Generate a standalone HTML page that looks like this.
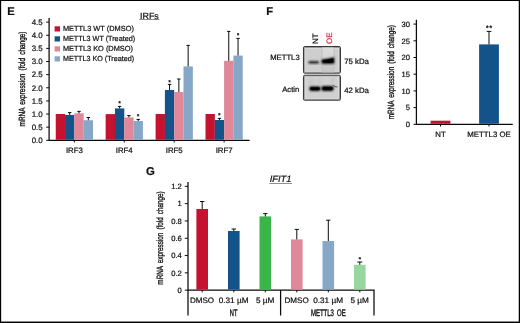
<!DOCTYPE html>
<html lang="en"><head><meta charset="utf-8"><title>Figure E-G</title>
<style>
html,body{margin:0;padding:0;background:#fff;}
body{width:520px;height:323px;overflow:hidden;}
svg{display:block;opacity:0.999;text-rendering:geometricPrecision;}
text{stroke:#111;stroke-width:0.22px;}
svg{font-family:"Liberation Sans", Arial, Helvetica, sans-serif;fill:#111;}
</style></head>
<body>
<svg width="520" height="323" viewBox="0 0 520 323">
<rect x="0" y="0" width="520" height="323" fill="#fff"/>
<rect x="0" y="0" width="520" height="1" fill="#000"/>
<rect x="0" y="0" width="1.15" height="323" fill="#000"/>
<rect x="518.75" y="0" width="1.25" height="323" fill="#000"/>
<rect x="0" y="321.55" width="520" height="1.45" fill="#000"/>
<text x="7.20" y="15.45" font-size="11.2" text-anchor="start" font-weight="bold">E</text>
<text x="266.30" y="15.45" font-size="11.2" text-anchor="start" font-weight="bold">F</text>
<text x="145.90" y="175.05" font-size="11.3" text-anchor="start" font-weight="bold">G</text>
<path d="M49.1 18V140.3M48.550000000000004 140.3H249.6" stroke="#0a0a0a" stroke-width="1.25" fill="none"/>
<path d="M46.2 140.30H49.1" stroke="#0a0a0a" stroke-width="1"/>
<text x="42.70" y="143.05" font-size="7.9" text-anchor="end" >0.0</text>
<path d="M46.2 127.17H49.1" stroke="#0a0a0a" stroke-width="1"/>
<text x="42.70" y="129.92" font-size="7.9" text-anchor="end" >0.5</text>
<path d="M46.2 114.04H49.1" stroke="#0a0a0a" stroke-width="1"/>
<text x="42.70" y="116.79" font-size="7.9" text-anchor="end" >1.0</text>
<path d="M46.2 100.91H49.1" stroke="#0a0a0a" stroke-width="1"/>
<text x="42.70" y="103.66" font-size="7.9" text-anchor="end" >1.5</text>
<path d="M46.2 87.78H49.1" stroke="#0a0a0a" stroke-width="1"/>
<text x="42.70" y="90.53" font-size="7.9" text-anchor="end" >2.0</text>
<path d="M46.2 74.65H49.1" stroke="#0a0a0a" stroke-width="1"/>
<text x="42.70" y="77.40" font-size="7.9" text-anchor="end" >2.5</text>
<path d="M46.2 61.52H49.1" stroke="#0a0a0a" stroke-width="1"/>
<text x="42.70" y="64.27" font-size="7.9" text-anchor="end" >3.0</text>
<path d="M46.2 48.39H49.1" stroke="#0a0a0a" stroke-width="1"/>
<text x="42.70" y="51.14" font-size="7.9" text-anchor="end" >3.5</text>
<path d="M46.2 35.26H49.1" stroke="#0a0a0a" stroke-width="1"/>
<text x="42.70" y="38.01" font-size="7.9" text-anchor="end" >4.0</text>
<path d="M46.2 22.13H49.1" stroke="#0a0a0a" stroke-width="1"/>
<text x="42.70" y="24.88" font-size="7.9" text-anchor="end" >4.5</text>
<text transform="translate(24.80 79.00) rotate(-90)" font-size="9.0" text-anchor="middle" textLength="95.0" lengthAdjust="spacingAndGlyphs" style="stroke-width:0.34px" word-spacing="1.8">mRNA expression (fold change)</text>
<text x="149.40" y="18.50" font-size="8.9" text-anchor="middle" >IRFs</text>
<rect x="139.3" y="19.45" width="20" height="0.55" fill="#333"/>
<rect x="54.6" y="26.30" width="5.4" height="5.2" fill="#C41230"/>
<text x="62.90" y="31.30" font-size="7.4" text-anchor="start" textLength="71.0" lengthAdjust="spacingAndGlyphs">METTL3 WT (DMSO)</text>
<rect x="54.6" y="36.30" width="5.4" height="5.2" fill="#14538A"/>
<text x="62.90" y="41.30" font-size="7.4" text-anchor="start" textLength="72.2" lengthAdjust="spacingAndGlyphs">METTL3 WT (Treated)</text>
<rect x="54.6" y="46.30" width="5.4" height="5.2" fill="#E0879A"/>
<text x="62.90" y="51.30" font-size="7.4" text-anchor="start" textLength="70.0" lengthAdjust="spacingAndGlyphs">METTL3 KO (DMSO)</text>
<rect x="54.6" y="56.30" width="5.4" height="5.2" fill="#86A7C6"/>
<text x="62.90" y="61.30" font-size="7.4" text-anchor="start" textLength="71.2" lengthAdjust="spacingAndGlyphs">METTL3 KO (Treated)</text>
<rect x="55.75" y="114.00" width="9.35" height="25.80" fill="#C41230"/>
<rect x="65.05" y="114.95" width="9.35" height="24.85" fill="#14538A"/>
<rect x="74.35" y="113.30" width="9.35" height="26.50" fill="#E0879A"/>
<rect x="83.65" y="120.25" width="9.35" height="19.55" fill="#86A7C6"/>
<path d="M69.70 114.95V112.60M68.00 112.60H71.40" stroke="#0a0a0a" stroke-width="1.0" fill="none"/>
<path d="M79.00 113.30V111.40M77.30 111.40H80.70" stroke="#0a0a0a" stroke-width="1.0" fill="none"/>
<path d="M88.30 120.25V117.50M86.60 117.50H90.00" stroke="#0a0a0a" stroke-width="1.0" fill="none"/>
<path d="M74.35 140.3V142.5" stroke="#0a0a0a" stroke-width="1"/>
<text x="74.35" y="152.80" font-size="7.8" text-anchor="middle" >IRF3</text>
<rect x="105.65" y="114.10" width="9.35" height="25.70" fill="#C41230"/>
<rect x="114.95" y="108.40" width="9.35" height="31.40" fill="#14538A"/>
<rect x="124.25" y="117.40" width="9.35" height="22.40" fill="#E0879A"/>
<rect x="133.55" y="121.00" width="9.35" height="18.80" fill="#86A7C6"/>
<path d="M119.60 108.40V106.40M117.90 106.40H121.30" stroke="#0a0a0a" stroke-width="1.0" fill="none"/>
<text x="119.60" y="105.01" font-size="5.6" font-weight="bold" style="stroke-width:0.25px" text-anchor="middle">*</text>
<path d="M128.90 117.40V115.60M127.20 115.60H130.60" stroke="#0a0a0a" stroke-width="1.0" fill="none"/>
<path d="M138.20 121.00V119.40M136.50 119.40H139.90" stroke="#0a0a0a" stroke-width="1.0" fill="none"/>
<text x="138.20" y="118.01" font-size="5.6" font-weight="bold" style="stroke-width:0.25px" text-anchor="middle">*</text>
<path d="M124.25 140.3V142.5" stroke="#0a0a0a" stroke-width="1"/>
<text x="124.25" y="152.80" font-size="7.8" text-anchor="middle" >IRF4</text>
<rect x="155.60" y="114.00" width="9.35" height="25.80" fill="#C41230"/>
<rect x="164.90" y="90.00" width="9.35" height="49.80" fill="#14538A"/>
<rect x="174.20" y="92.00" width="9.35" height="47.80" fill="#E0879A"/>
<rect x="183.50" y="66.40" width="9.35" height="73.40" fill="#86A7C6"/>
<path d="M169.55 90.00V84.40M167.85 84.40H171.25" stroke="#0a0a0a" stroke-width="1.0" fill="none"/>
<text x="169.55" y="83.81" font-size="5.6" font-weight="bold" style="stroke-width:0.25px" text-anchor="middle">*</text>
<path d="M178.85 92.00V79.00M177.15 79.00H180.55" stroke="#0a0a0a" stroke-width="1.0" fill="none"/>
<path d="M188.15 66.40V45.40M186.45 45.40H189.85" stroke="#0a0a0a" stroke-width="1.0" fill="none"/>
<path d="M174.20 140.3V142.5" stroke="#0a0a0a" stroke-width="1"/>
<text x="174.20" y="152.80" font-size="7.8" text-anchor="middle" >IRF5</text>
<rect x="205.50" y="114.00" width="9.35" height="25.80" fill="#C41230"/>
<rect x="214.80" y="120.00" width="9.35" height="19.80" fill="#14538A"/>
<rect x="224.10" y="60.80" width="9.35" height="79.00" fill="#E0879A"/>
<rect x="233.40" y="55.60" width="9.35" height="84.20" fill="#86A7C6"/>
<path d="M219.45 120.00V118.40M217.75 118.40H221.15" stroke="#0a0a0a" stroke-width="1.0" fill="none"/>
<text x="219.45" y="117.41" font-size="5.6" font-weight="bold" style="stroke-width:0.25px" text-anchor="middle">*</text>
<path d="M228.75 60.80V31.40M227.05 31.40H230.45" stroke="#0a0a0a" stroke-width="1.0" fill="none"/>
<path d="M238.05 55.60V38.40M236.35 38.40H239.75" stroke="#0a0a0a" stroke-width="1.0" fill="none"/>
<text x="238.05" y="37.41" font-size="5.6" font-weight="bold" style="stroke-width:0.25px" text-anchor="middle">*</text>
<path d="M224.10 140.3V142.5" stroke="#0a0a0a" stroke-width="1"/>
<text x="224.10" y="152.80" font-size="7.8" text-anchor="middle" >IRF7</text>
<defs>
<filter id="b1" x="-30%" y="-60%" width="160%" height="220%"><feGaussianBlur stdDeviation="0.8"/></filter>
<filter id="b2" x="-30%" y="-60%" width="160%" height="220%"><feGaussianBlur stdDeviation="0.8"/></filter>
<linearGradient id="lane" x1="0" y1="0" x2="0" y2="1"><stop offset="0" stop-color="#dedede"/><stop offset="0.45" stop-color="#d4d4d4"/><stop offset="0.7" stop-color="#c9c9c9"/><stop offset="1" stop-color="#c6c6c6"/></linearGradient>
<clipPath id="c1"><rect x="303.9" y="47.0" width="36.1" height="25.7"/></clipPath>
<clipPath id="c2"><rect x="303.9" y="75.65" width="36.1" height="24.1"/></clipPath>
</defs>
<rect x="303.45" y="46.55" width="37.0" height="26.6" rx="1.3" fill="#cecece" stroke="#2e2e2e" stroke-width="1.0"/>
<g clip-path="url(#c1)">
<rect x="304.35" y="47.45" width="35.2" height="24.8" rx="0.6" fill="none" stroke="#7d7d7d" stroke-width="0.8"/>
<rect x="305.1" y="48.2" width="33.7" height="23.3" fill="none" stroke="#e2e2e2" stroke-width="0.6"/>
<rect x="322.3" y="47.5" width="11.4" height="25" fill="url(#lane)"/>
<path d="M322.1 48V72.5M333.9 48V72.5" stroke="#bdbdbd" stroke-width="0.7"/>
<rect x="308.4" y="61.2" width="10.6" height="2.3" rx="1.1" fill="#111" filter="url(#b1)"/>
<rect x="309.2" y="61.7" width="9.0" height="1.3" rx="0.6" fill="#222" opacity="0.4"/>
<path d="M321.6 59.4 Q327 59.0 334.2 57.3 L334.4 63.4 Q327 64.0 321.6 63.4 Z" fill="#000" filter="url(#b1)"/>
<path d="M322.6 60.1 Q327.5 59.7 333.4 58.2 L333.6 62.6 Q327.5 63.2 322.6 62.6 Z" fill="#000" opacity="0.8"/>
</g>
<rect x="303.45" y="75.2" width="37.0" height="25.0" rx="1.3" fill="#d0d0d0" stroke="#2e2e2e" stroke-width="1.0"/>
<g clip-path="url(#c2)">
<rect x="304.35" y="76.1" width="35.2" height="23.2" rx="0.6" fill="none" stroke="#7d7d7d" stroke-width="0.8"/>
<rect x="305.1" y="76.85" width="33.7" height="21.7" fill="none" stroke="#e2e2e2" stroke-width="0.6"/>
<path d="M310.6 77V86M320.6 77V86M332.2 77V86" stroke="#c2c2c2" stroke-width="1.2" filter="url(#b1)"/>
<rect x="309.3" y="86.4" width="11.3" height="4.5" rx="1.8" fill="#000" filter="url(#b1)"/>
<rect x="310.2" y="87.3" width="9.6" height="2.7" rx="1.2" fill="#000" opacity="0.7"/>
<rect x="321.5" y="86.1" width="12.2" height="4.8" rx="1.8" fill="#000" filter="url(#b1)"/>
<rect x="322.4" y="87.1" width="10.4" height="2.9" rx="1.2" fill="#000" opacity="0.7"/>
<path d="M333.2 85.2L335.2 86.6L337.4 87.0" stroke="#2a2a2a" stroke-width="0.8" fill="none"/>
</g>
<text transform="translate(317.9 43.9) rotate(-90)" font-size="7.9">NT</text>
<text transform="translate(331.5 43.9) rotate(-90)" font-size="7.9" fill="#DC3049" style="stroke:#DC3049">OE</text>
<text x="270.20" y="60.00" font-size="7.7" text-anchor="start" >METTL3</text>
<text x="282.20" y="91.60" font-size="7.7" text-anchor="start" >Actin</text>
<text x="344.20" y="63.80" font-size="7.8" text-anchor="start" >75 kDa</text>
<text x="344.20" y="92.80" font-size="7.8" text-anchor="start" >42 kDa</text>
<path d="M416.4 19.8V124.3M415.84999999999997 124.3H512.8" stroke="#0a0a0a" stroke-width="1.25" fill="none"/>
<path d="M413.5 124.30H416.4" stroke="#0a0a0a" stroke-width="1"/>
<text x="410.00" y="127.00" font-size="7.6" text-anchor="end" >0</text>
<path d="M413.5 107.60H416.4" stroke="#0a0a0a" stroke-width="1"/>
<text x="410.00" y="110.30" font-size="7.6" text-anchor="end" >5</text>
<path d="M413.5 90.90H416.4" stroke="#0a0a0a" stroke-width="1"/>
<text x="410.00" y="93.60" font-size="7.6" text-anchor="end" >10</text>
<path d="M413.5 74.20H416.4" stroke="#0a0a0a" stroke-width="1"/>
<text x="410.00" y="76.90" font-size="7.6" text-anchor="end" >15</text>
<path d="M413.5 57.50H416.4" stroke="#0a0a0a" stroke-width="1"/>
<text x="410.00" y="60.20" font-size="7.6" text-anchor="end" >20</text>
<path d="M413.5 40.80H416.4" stroke="#0a0a0a" stroke-width="1"/>
<text x="410.00" y="43.50" font-size="7.6" text-anchor="end" >25</text>
<path d="M413.5 24.10H416.4" stroke="#0a0a0a" stroke-width="1"/>
<text x="410.00" y="26.80" font-size="7.6" text-anchor="end" >30</text>
<text transform="translate(393.60 72.20) rotate(-90)" font-size="9.0" text-anchor="middle" textLength="94.2" lengthAdjust="spacingAndGlyphs" style="stroke-width:0.34px" word-spacing="1.8">mRNA expression (fold change)</text>
<rect x="430.60" y="120.70" width="19.80" height="3.10" fill="#C41230"/>
<rect x="479.10" y="44.40" width="19.80" height="79.40" fill="#14538A"/>
<path d="M489.00 44.40V31.40M486.70 31.40H491.30" stroke="#0a0a0a" stroke-width="1.0" fill="none"/>
<text x="487.30" y="30.25" font-size="6.4" font-weight="bold" style="stroke-width:0.25px" text-anchor="middle">*</text>
<text x="490.80" y="30.25" font-size="6.4" font-weight="bold" style="stroke-width:0.25px" text-anchor="middle">*</text>
<path d="M440.50 124.3V126.5" stroke="#0a0a0a" stroke-width="1"/>
<text x="440.50" y="136.70" font-size="7.8" text-anchor="middle" >NT</text>
<path d="M489.00 124.3V126.5" stroke="#0a0a0a" stroke-width="1"/>
<text x="489.00" y="136.70" font-size="7.8" text-anchor="middle" >METTL3 OE</text>
<path d="M188.0 182V315.6M187.45 290.15H374M280.6 290.15V315.6M374 289.59999999999997V315.6" stroke="#0a0a0a" stroke-width="1.25" fill="none"/>
<path d="M184.8 290.15H188.0" stroke="#0a0a0a" stroke-width="1"/>
<text x="181.80" y="292.85" font-size="7.6" text-anchor="end" >0</text>
<path d="M184.8 272.85H188.0" stroke="#0a0a0a" stroke-width="1"/>
<text x="181.80" y="275.55" font-size="7.6" text-anchor="end" >0.2</text>
<path d="M184.8 255.55H188.0" stroke="#0a0a0a" stroke-width="1"/>
<text x="181.80" y="258.25" font-size="7.6" text-anchor="end" >0.4</text>
<path d="M184.8 238.25H188.0" stroke="#0a0a0a" stroke-width="1"/>
<text x="181.80" y="240.95" font-size="7.6" text-anchor="end" >0.6</text>
<path d="M184.8 220.95H188.0" stroke="#0a0a0a" stroke-width="1"/>
<text x="181.80" y="223.65" font-size="7.6" text-anchor="end" >0.8</text>
<path d="M184.8 203.65H188.0" stroke="#0a0a0a" stroke-width="1"/>
<text x="181.80" y="206.35" font-size="7.6" text-anchor="end" >1</text>
<path d="M184.8 186.35H188.0" stroke="#0a0a0a" stroke-width="1"/>
<text x="181.80" y="189.05" font-size="7.6" text-anchor="end" >1.2</text>
<text transform="translate(163.30 238.00) rotate(-90)" font-size="9.0" text-anchor="middle" textLength="93.3" lengthAdjust="spacingAndGlyphs" style="stroke-width:0.34px" word-spacing="1.8">mRNA expression (fold change)</text>
<text x="280.60" y="182.00" font-size="9.2" text-anchor="middle" font-style="italic" textLength="21.9" lengthAdjust="spacingAndGlyphs">IFIT1</text>
<rect x="269.3" y="183.05" width="22.7" height="0.55" fill="#333"/>
<rect x="196.40" y="209.00" width="11.60" height="80.65" fill="#C41230"/>
<rect x="228.00" y="231.00" width="11.60" height="58.65" fill="#14538A"/>
<rect x="259.50" y="216.40" width="11.60" height="73.25" fill="#3BB44A"/>
<rect x="291.00" y="239.40" width="11.60" height="50.25" fill="#E0879A"/>
<rect x="322.50" y="241.00" width="11.60" height="48.65" fill="#86A7C6"/>
<rect x="354.00" y="264.80" width="11.60" height="24.85" fill="#98D6A0"/>
<path d="M202.20 209.00V201.50M200.05 201.50H204.35" stroke="#0a0a0a" stroke-width="1.0" fill="none"/>
<path d="M202.20 290.15V292.34999999999997" stroke="#0a0a0a" stroke-width="1"/>
<text x="202.00" y="302.60" font-size="7.9" text-anchor="middle" textLength="24.2" lengthAdjust="spacingAndGlyphs">DMSO</text>
<path d="M233.80 231.00V229.00M231.65 229.00H235.95" stroke="#0a0a0a" stroke-width="1.0" fill="none"/>
<path d="M233.80 290.15V292.34999999999997" stroke="#0a0a0a" stroke-width="1"/>
<text x="233.60" y="302.60" font-size="7.9" text-anchor="middle" textLength="29.8" lengthAdjust="spacingAndGlyphs">0.31 µM</text>
<path d="M265.30 216.40V213.60M263.15 213.60H267.45" stroke="#0a0a0a" stroke-width="1.0" fill="none"/>
<path d="M265.30 290.15V292.34999999999997" stroke="#0a0a0a" stroke-width="1"/>
<text x="265.10" y="302.60" font-size="7.9" text-anchor="middle" textLength="18.4" lengthAdjust="spacingAndGlyphs">5 µM</text>
<path d="M296.80 239.40V229.40M294.65 229.40H298.95" stroke="#0a0a0a" stroke-width="1.0" fill="none"/>
<path d="M296.80 290.15V292.34999999999997" stroke="#0a0a0a" stroke-width="1"/>
<text x="296.60" y="302.60" font-size="7.9" text-anchor="middle" textLength="24.2" lengthAdjust="spacingAndGlyphs">DMSO</text>
<path d="M328.30 241.00V220.20M326.15 220.20H330.45" stroke="#0a0a0a" stroke-width="1.0" fill="none"/>
<path d="M328.30 290.15V292.34999999999997" stroke="#0a0a0a" stroke-width="1"/>
<text x="328.10" y="302.60" font-size="7.9" text-anchor="middle" textLength="29.8" lengthAdjust="spacingAndGlyphs">0.31 µM</text>
<path d="M359.80 264.80V262.00M357.30 262.00H362.30" stroke="#0a0a0a" stroke-width="1.0" fill="none"/>
<path d="M359.80 290.15V292.34999999999997" stroke="#0a0a0a" stroke-width="1"/>
<text x="359.60" y="302.60" font-size="7.9" text-anchor="middle" textLength="18.4" lengthAdjust="spacingAndGlyphs">5 µM</text>
<text x="359.80" y="261.01" font-size="5.6" font-weight="bold" style="stroke-width:0.25px" text-anchor="middle">*</text>
<text x="233.6" y="315.8" font-size="9.5" text-anchor="middle" textLength="7.6" lengthAdjust="spacingAndGlyphs" style="stroke-width:0.4px">NT</text>
<text x="328.3" y="315.8" font-size="9.5" text-anchor="middle" textLength="34.8" lengthAdjust="spacingAndGlyphs" word-spacing="2.2" style="stroke-width:0.4px">METTL3 OE</text>
</svg>
</body></html>
